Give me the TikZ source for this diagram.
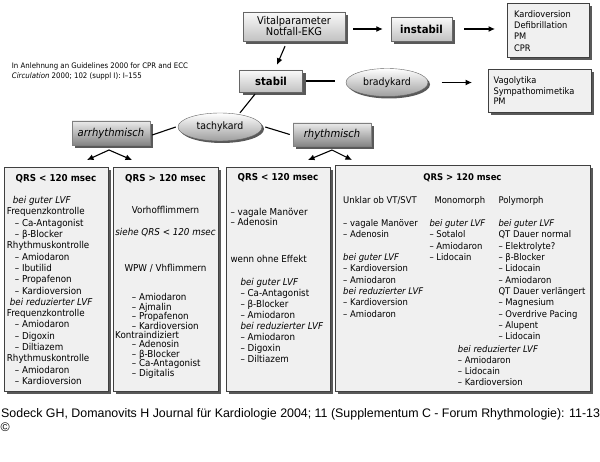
\documentclass[tikz,border=0pt]{standalone}
\usepackage{fontspec}
\setmainfont{DejaVu Sans}[FakeStretch=0.92]
\newfontfamily\footfont{Liberation Sans}
\usetikzlibrary{shapes.geometric,shadows,arrows.meta}
\newcommand\fsz[2]{\fontsize{#1}{#2}\selectfont\lineskiplimit=-10pt\relax}
\begin{document}
\begin{tikzpicture}[x=1pt,y=-1pt,
  shd/.style={drop shadow={shadow xshift=3pt,shadow yshift=-3pt,fill=black!65,opacity=1}},
  hdr/.style={draw=black!60,top color=black!2,bottom color=black!24,shd,inner sep=0pt,align=center},
  lab/.style={draw=black!50,top color=black!8,bottom color=black!48,shd,inner sep=0pt,font=\fsz{10.9}{12}\itshape},
  ell/.style={ellipse,draw=black!60,top color=white,bottom color=black!38,inner sep=0pt,
     drop shadow={shadow xshift=2pt,shadow yshift=-2pt,fill=black!65,opacity=1},font=\fsz{10.2}{12}},
  panel/.style={draw=black!75,fill=black!6,shd,inner sep=0pt,anchor=north west},
  txt/.style={anchor=north west,inner sep=0pt,align=left},
  ctr/.style={anchor=north,inner sep=0pt,align=center},
  arr/.style={line width=1.1pt,-{Latex[length=6.5pt,width=6pt]}},
  ln/.style={line width=1.1pt}]
\useasboundingbox (0,0) rectangle (600,462);
\fill[white] (0,0) rectangle (600,462);

% ---------- top part ----------
\node[hdr,minimum width=102pt,minimum height=29pt,font=\fsz{10.7}{11}] (vital) at (294,26.5) {Vitalparameter\\Notfall-EKG};
\node[hdr,minimum width=61pt,minimum height=24pt,font=\fsz{11}{12}\bfseries] (instabil) at (421.5,29) {instabil};
\node[panel,minimum width=82pt,minimum height=54pt] (out1) at (507,3) {};
\node[txt,font=\fsz{9}{11.2}] (out1t) at (514,9.5) {\strut Kardioversion\\Defibrillation\\PM\\CPR};
\node[hdr,minimum width=63pt,minimum height=22pt,font=\fsz{11}{12}\bfseries] (stabil) at (271,81) {stabil};
\node[ell,minimum width=82pt,minimum height=28pt] (brady) at (387,82.5) {bradykard};
\node[panel,minimum width=103pt,minimum height=43pt] (out2) at (488,69) {};
\node[txt,font=\fsz{9}{10.8}] (out2t) at (493.3,75.5) {\strut Vagolytika\\Sympathomimetika\\PM};
\node[ell,minimum width=84pt,minimum height=28pt] (tachy) at (220,127) {tachykard};
\node[lab,minimum width=78pt,minimum height=24pt] (arrh) at (111,133) {arrhythmisch};
\node[lab,minimum width=78pt,minimum height=23pt] (rhy) at (332,134.5) {rhythmisch};

\node[txt,font=\fsz{7.6}{10}] (note) at (11.7,61.8) {\strut In Anlehnung an Guidelines 2000 for CPR and ECC\\\textit{Circulation} 2000; 102 (suppl I): I–155};

% connectors
\draw[arr,shorten <=8pt,shorten >=8pt] (vital.east |- instabil.west) -- (instabil.west);
\draw[arr,shorten <=12pt,shorten >=12pt] (instabil.east) -- (instabil.east -| out1.west);
\draw[arr] ([xshift=-9pt,yshift=-5pt]vital.south) -- ([xshift=6pt,yshift=5pt]stabil.north);
\draw[ln,shorten <=3pt,shorten >=11pt] (stabil.east) -- (stabil.east -| brady.west);
\draw[arr,shorten <=13.5pt,shorten >=16pt] (brady.east) -- (brady.east -| out2.west);
\draw[ln] ([xshift=-16pt,yshift=-2pt]stabil.south) -- ([xshift=20pt]tachy.north);
\draw[ln] ([xshift=-2pt]tachy.west) -- ([xshift=2pt,yshift=-2pt]arrh.east);
\draw[ln] ([xshift=3pt]tachy.east) -- ([xshift=-3pt]rhy.west);

\coordinate (aa) at (109,150);
\coordinate (aL) at (87,160);
\coordinate (aR) at (132,160);
\coordinate (ra) at (332,150);
\coordinate (rL) at (308,160);
\coordinate (rR) at (352,160);
\draw[arr] (aa) -- (aL);
\draw[arr] (aa) -- (aR);
\draw[arr] (ra) -- (rL);
\draw[arr] (ra) -- (rR);

% ---------- panels ----------
\node[panel,minimum width=104pt,minimum height=224pt] (p1) at (4,167) {};
\node[panel,minimum width=105pt,minimum height=224pt] (p2) at (113,167) {};
\node[panel,minimum width=104pt,minimum height=224pt] (p3) at (226,167) {};
\node[panel,minimum width=255pt,minimum height=226pt] (p4) at (335,165) {};

% panel 1
\node[ctr,font=\fsz{9.5}{11.3}\bfseries] (h1) at (56,173.8) {\strut QRS < 120 msec};
\node[txt,font=\fsz{9.5}{11.3}] (l1) at (6.7,195.5) {\strut\hspace*{6pt}\textit{bei guter LVF}\\
Frequenzkontrolle\\
\hspace*{8pt}– Ca-Antagonist\\
\hspace*{8pt}– β-Blocker\\
Rhythmuskontrolle\\
\hspace*{8pt}– Amiodaron\\
\hspace*{8pt}– Ibutilid\\
\hspace*{8pt}– Propafenon\\
\hspace*{8pt}– Kardioversion\\
\hspace*{3pt}\textit{bei reduzierter LVF}\\
Frequenzkontrolle\\
\hspace*{8pt}– Amiodaron\\
\hspace*{8pt}– Digoxin\\
\hspace*{8pt}– Diltiazem\\
Rhythmuskontrolle\\
\hspace*{8pt}– Amiodaron\\
\hspace*{8pt}– Kardioversion};

% panel 2
\node[ctr,font=\fsz{9.5}{11.3}\bfseries] (h2) at (165.5,173.8) {\strut QRS > 120 msec};
\node[ctr,font=\fsz{9.5}{11.3}] (v2) at (165.5,205.5) {\strut Vorhofflimmern};
\node[ctr,font=\fsz{9.5}{11.3}\itshape] (s2) at (165.5,227.2) {\strut siehe QRS < 120 msec};
\node[ctr,font=\fsz{9.5}{11.3}] (w2) at (165.5,263.8) {\strut WPW / Vhflimmern};
\node[txt,font=\fsz{9.5}{9.4}] (l2) at (115,293.5) {\strut\hspace*{16.7pt}– Amiodaron\\
\hspace*{16.7pt}– Ajmalin\\
\hspace*{16.7pt}– Propafenon\\
\hspace*{16.7pt}– Kardioversion\\
Kontraindiziert\\
\hspace*{16.7pt}– Adenosin\\
\hspace*{16.7pt}– β-Blocker\\
\hspace*{16.7pt}– Ca-Antagonist\\
\hspace*{16.7pt}– Digitalis};

% panel 3
\node[ctr,font=\fsz{9.5}{11.3}\bfseries] (h3) at (278,172.8) {\strut QRS < 120 msec};
\node[txt,font=\fsz{9.5}{10.7}] (a3) at (230.3,207.4) {\strut – vagale Manöver\\– Adenosin};
\node[txt,font=\fsz{9.5}{10.7}] (w3) at (230.3,255) {\strut wenn ohne Effekt};
\node[txt,font=\fsz{9.5}{11.04}] (b3) at (240.3,277.3) {\strut\textit{bei guter LVF}\\
– Ca-Antagonist\\
– β-Blocker\\
– Amiodaron\\
\textit{bei reduzierter LVF}\\
– Amiodaron\\
– Digoxin\\
– Diltiazem};

% panel 4
\node[ctr,font=\fsz{9.2}{11.3}\bfseries] (h4) at (462.5,172.3) {\strut QRS > 120 msec};
\node[txt,font=\fsz{9.2}{11.35}] (c1h) at (343,195.7) {\strut Unklar ob VT/SVT};
\node[txt,font=\fsz{9.2}{11.35}] (c2h) at (434.3,195.7) {\strut Monomorph};
\node[txt,font=\fsz{9.2}{11.35}] (c3h) at (498.3,195.7) {\strut Polymorph};
\node[txt,font=\fsz{9.2}{11.35}] (c1a) at (343,218.3) {\strut – vagale Manöver\\– Adenosin};
\node[txt,font=\fsz{9.2}{11.35}] (c1b) at (343,252.3) {\strut\textit{bei guter LVF}\\
– Kardioversion\\
– Amiodaron\\
\textit{bei reduzierter LVF}\\
– Kardioversion\\
– Amiodaron};
\node[txt,font=\fsz{9.2}{11.35}] (c2) at (429.3,218.3) {\strut\textit{bei guter LVF}\\
– Sotalol\\
– Amiodaron\\
– Lidocain};
\node[txt,font=\fsz{9.2}{11.35}] (c3) at (498.3,218.3) {\strut\textit{bei guter LVF}\\
QT Dauer normal\\
– Elektrolyte?\\
– β-Blocker\\
– Lidocain\\
– Amiodaron\\
QT Dauer verlängert\\
– Magnesium\\
– Overdrive Pacing\\
– Alupent\\
– Lidocain};
\node[txt,font=\fsz{9.2}{10.8}] (c4) at (457.7,344.9) {\strut\textit{bei reduzierter LVF}\\
– Amiodaron\\
– Lidocain\\
– Kardioversion};

% ---------- footer ----------
\node[anchor=base west,inner sep=0pt,font=\footfont\fsz{12.4}{14}] (foot) at (1,417.5) {Sodeck GH, Domanovits H Journal für Kardiologie 2004; 11 (Supplementum C - Forum Rhythmologie): 11-13};
\node[anchor=base west,inner sep=0pt,font=\footfont\fsz{12.4}{14}] (copy) at (0.5,431) {©};
\end{tikzpicture}
\end{document}
